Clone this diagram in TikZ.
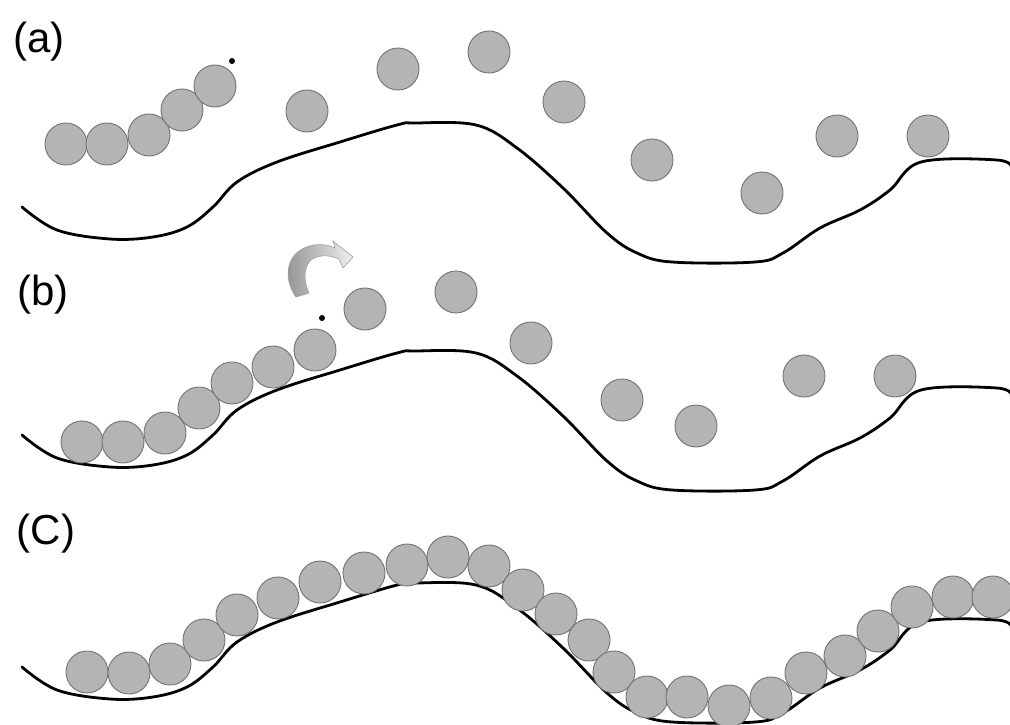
\documentclass[tikz,border=0pt]{standalone}
\usepackage{fontspec}
\setmainfont{Liberation Sans}
\definecolor{beadfill}{RGB}{180,180,180}
\definecolor{beadline}{RGB}{115,115,115}
\begin{document}
\begin{tikzpicture}[x=1pt,y=-1pt,
  bead/.style={circle, fill=beadfill, draw=beadline, line width=0.9pt, minimum size=42pt, inner sep=0pt},
  ground/.style={line width=2.8pt, black, line cap=round, line join=round},
  lab/.style={inner sep=0pt, font=\fontsize{42}{42}\selectfont},
  dotmark/.style={circle, fill=black, inner sep=0pt, minimum size=6pt}]
\useasboundingbox (0,0) rectangle (1010,725);
\fill[white] (0,0) rectangle (1010,725);

% ground curves
\foreach \dy in {0,228,460}{
  \begin{scope}[shift={(0,\dy)}]
  \draw[ground] plot[smooth, tension=0.6] coordinates {(22,207) (57,230) (110,239) (153,237) (187,227) (213,207) (237,182) (277,162) (340,142) (397,125) (415,123) (476,125) (517,148) (563,188) (607,233) (637,253) (672,262) (755,262) (783,253) (820,228) (860,210) (890,190) (921,162) (997,160) (1012,168)};
  \end{scope}
}

% labels
\node[lab] (la) at (39,42) {(a)};
\node[lab] (lb) at (43,295) {(b)};
\node[lab] (lc) at (46,534) {(C)};

% panel (a)
\foreach \x/\y [count=\i] in {66/144,107/144,149/135,182/110,215/86,307/111,398/69,489/52,564/102,652/160,762/193,837/136,928/136}
  \node[bead] (a\i) at (\x,\y) {};
\node[dotmark] (da) at (232,61) {};

% panel (b)
\foreach \x/\y [count=\i] in {82/442,123/442,165/433,199/408,232/383,273/367,315/350,365/309,456/292,531/343,622/400,696/426,804/376,895/376}
  \node[bead] (b\i) at (\x,\y) {};
\node[dotmark] (db) at (322,318) {};

% curved arrow
\shade[left color=gray!85, right color=gray!12, draw=gray!75, line width=0.6pt]
  (296,297) .. controls (285,282) and (285,261) .. (299,251)
  .. controls (310,243) and (325,243) .. (335,248)
  -- (333,241) -- (353,257) -- (343,268) -- (339,259)
  .. controls (328,254) and (316,255) .. (310,261)
  .. controls (303,269) and (304,282) .. (309,293) -- cycle;

% panel (c)
\foreach \x/\y [count=\i] in {87/672,129/673,170/664,204/640,237/615,278/598,320/582,364/573,407/565,448/557,489/566,523/590,556/614,589/640,614/672,647/697,687/697,729/706,771/698,806/673,845/656,878/631,912/607,953/597,993/597}
  \node[bead] (c\i) at (\x,\y) {};
\end{tikzpicture}
\end{document}
